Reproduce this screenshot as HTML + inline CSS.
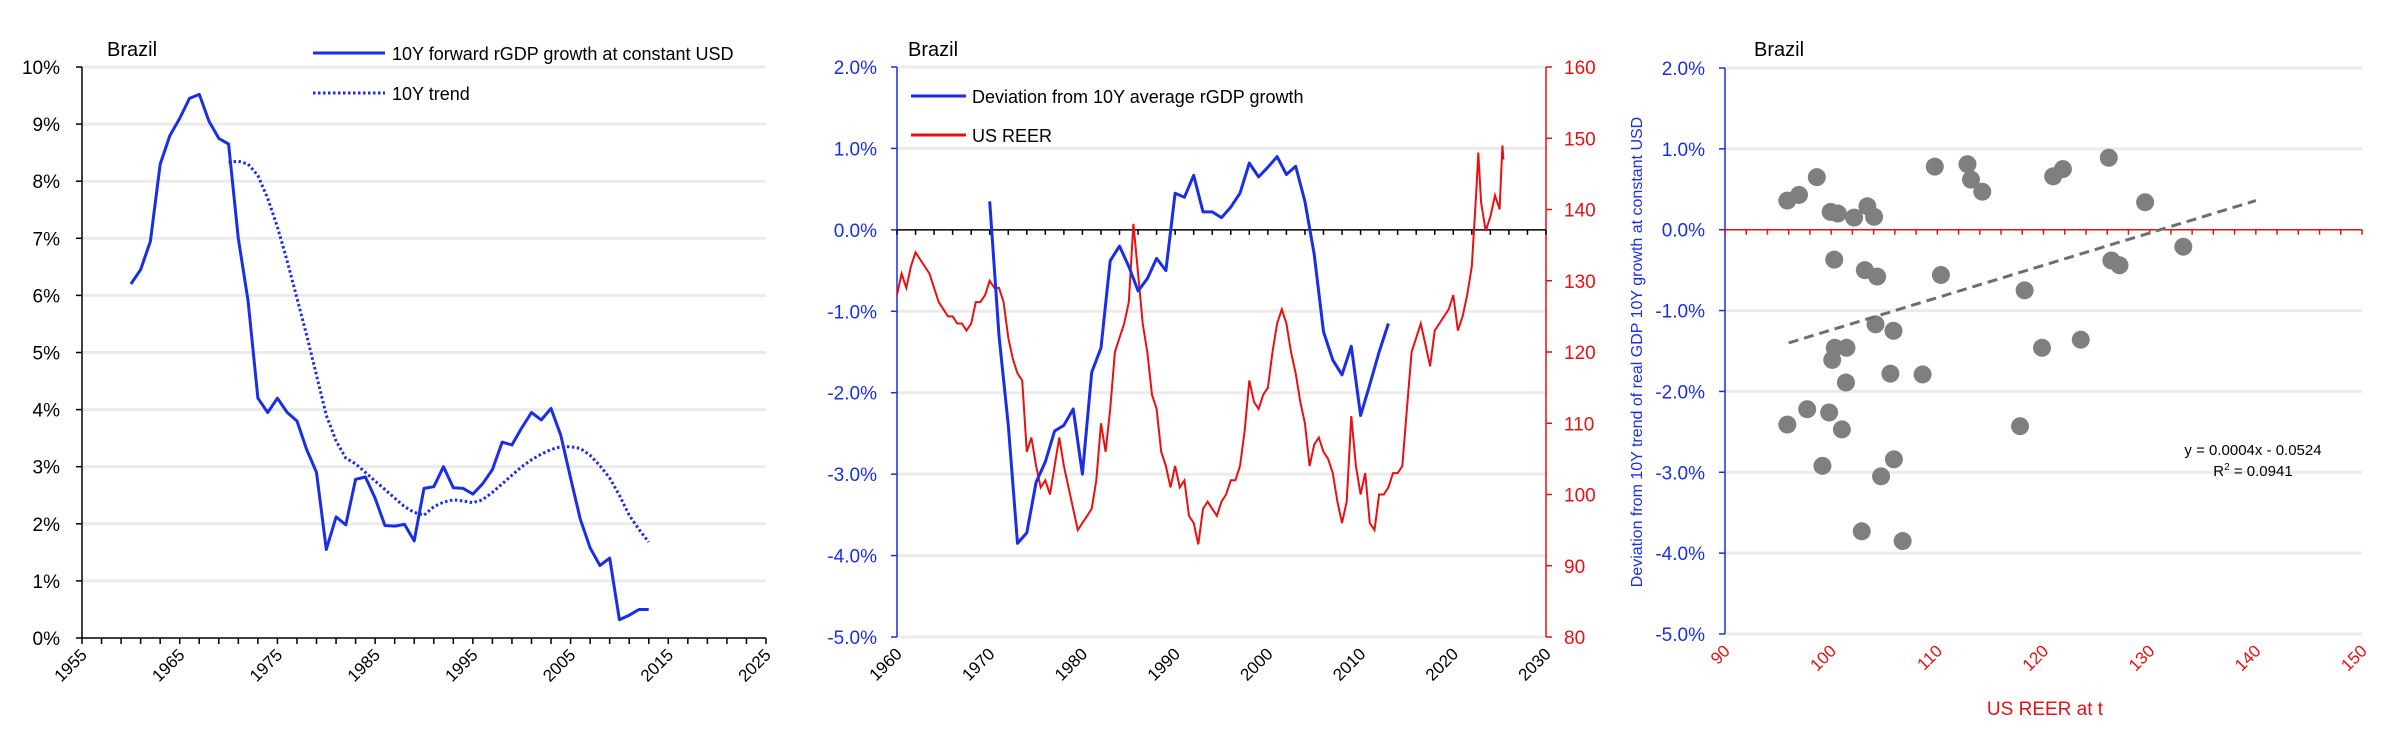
<!DOCTYPE html>
<html><head><meta charset="utf-8"><style>
html,body{margin:0;padding:0;background:#fff}
svg{display:block;font-family:"Liberation Sans",sans-serif}
</style></head><body>
<svg id="svg" width="2400" height="735" viewBox="0 0 2400 735"></svg>
<script>
// ---- Chart 1 data ----
const c1Years=[1960,1961,1962,1963,1964,1965,1966,1967,1968,1969,1970,1971,1972,1973,1974,1975,1976,1977,1978,1979,1980,1981,1982,1983,1984,1985,1986,1987,1988,1989,1990,1991,1992,1993,1994,1995,1996,1997,1998,1999,2000,2001,2002,2003,2004,2005,2006,2007,2008,2009,2010,2011,2012,2013];
const c1Growth=[6.2,6.45,6.95,8.3,8.8,9.1,9.45,9.52,9.05,8.75,8.65,7.0,5.9,4.2,3.95,4.2,3.95,3.8,3.3,2.9,1.55,2.12,1.98,2.78,2.82,2.45,1.97,1.96,1.99,1.7,2.62,2.65,3.0,2.63,2.62,2.52,2.7,2.95,3.43,3.38,3.68,3.95,3.82,4.02,3.55,2.8,2.08,1.58,1.27,1.4,0.32,0.4,0.5,0.5];
const c1TrendYears=[1970,1971,1972,1973,1974,1975,1976,1977,1978,1979,1980,1981,1982,1983,1984,1985,1986,1987,1988,1989,1990,1991,1992,1993,1994,1995,1996,1997,1998,1999,2000,2001,2002,2003,2004,2005,2006,2007,2008,2009,2010,2011,2012,2013];
const c1Trend=[8.33,8.35,8.3,8.1,7.7,7.2,6.6,5.95,5.3,4.6,3.9,3.45,3.15,3.05,2.9,2.75,2.6,2.45,2.3,2.2,2.15,2.3,2.38,2.42,2.4,2.37,2.42,2.55,2.7,2.85,3.0,3.12,3.22,3.3,3.35,3.35,3.32,3.2,3.02,2.8,2.5,2.15,1.9,1.68];
const c1YTicks=[0,1,2,3,4,5,6,7,8,9,10];
const c1XTicks=[1955,1965,1975,1985,1995,2005,2015,2025];
// ---- Chart 2 data ----
const c2Years=[1970,1971,1972,1973,1974,1975,1976,1977,1978,1979,1980,1981,1982,1983,1984,1985,1986,1987,1988,1989,1990,1991,1992,1993,1994,1995,1996,1997,1998,1999,2000,2001,2002,2003,2004,2005,2006,2007,2008,2009,2010,2011,2012,2013];
const c2Dev=[0.35,-1.3,-2.4,-3.85,-3.72,-3.1,-2.85,-2.47,-2.4,-2.2,-3.0,-1.75,-1.45,-0.38,-0.2,-0.45,-0.75,-0.6,-0.35,-0.5,0.45,0.4,0.67,0.22,0.22,0.15,0.28,0.45,0.82,0.65,0.77,0.9,0.68,0.78,0.35,-0.3,-1.25,-1.6,-1.78,-1.43,-2.28,-1.9,-1.5,-1.15];
const reerYears=[1960,1960.5,1961,1961.5,1962,1962.5,1963,1963.5,1964,1964.5,1965,1965.5,1966,1966.5,1967,1967.5,1968,1968.5,1969,1969.5,1970,1970.5,1971,1971.5,1972,1972.5,1973,1973.5,1974,1974.5,1975,1975.5,1976,1976.5,1977,1977.5,1978,1978.5,1979,1979.5,1980,1980.5,1981,1981.5,1982,1982.5,1983,1983.5,1984,1984.5,1985,1985.5,1986,1986.5,1987,1987.5,1988,1988.5,1989,1989.5,1990,1990.5,1991,1991.5,1992,1992.5,1993,1993.5,1994,1994.5,1995,1995.5,1996,1996.5,1997,1997.5,1998,1998.5,1999,1999.5,2000,2000.5,2001,2001.5,2002,2002.5,2003,2003.5,2004,2004.5,2005,2005.5,2006,2006.5,2007,2007.5,2008,2008.5,2009,2009.5,2010,2010.5,2011,2011.5,2012,2012.5,2013,2013.5,2014,2014.5,2015,2015.5,2016,2016.5,2017,2017.5,2018,2018.5,2019,2019.5,2020,2020.5,2021,2021.5,2022,2022.5,2022.7,2023,2023.5,2024,2024.5,2025,2025.3,2025.4];
const reerValues=[128,131,129,132,134,133,132,131,129,127,126,125,125,124,124,123,124,127,127,128,130,129,129,127,122,119,117,116,106,108,104,101,102,100,104,108,104,101,98,95,96,97,98,102,110,106,112,120,122,124,127,138,131,124,120,114,112,106,104,101,104,101,102,97,96,93,98,99,98,97,99,100,102,102,104,109,116,113,112,114,115,120,124,126,124,120,117,113,110,104,107,108,106,105,103,99,96,99,111,104,100,103,96,95,100,100,101,103,103,104,112,120,122,124,121,118,123,124,125,126,128,123,125,128,132,143,148,141,137,139,142,140,149,147];
const c2LeftTicks=[2,1,0,-1,-2,-3,-4,-5];
const c2RightTicks=[80,90,100,110,120,130,140,150,160];
const c2XTicks=[1960,1970,1980,1990,2000,2010,2020,2030];
// ---- Chart 3 data ----
const scatterX=[95.87,96.97,98.65,99.95,100.63,102.16,103.41,104.04,100.29,103.17,104.33,109.76,112.84,113.17,114.23,110.34,120.91,121.83,126.15,129.57,126.39,127.16,133.17,118.22,104.18,105.87,100.34,101.44,100.10,101.39,105.58,108.61,119.86,123.51,95.87,97.74,99.81,101.01,117.79,99.18,105.91,104.70,102.88,106.73];
const scatterY=[0.36,0.43,0.65,0.22,0.20,0.15,0.29,0.16,-0.37,-0.50,-0.58,0.78,0.81,0.62,0.47,-0.56,0.66,0.75,0.89,0.34,-0.38,-0.44,-0.21,-0.75,-1.17,-1.25,-1.46,-1.46,-1.61,-1.89,-1.78,-1.79,-1.46,-1.36,-2.41,-2.22,-2.26,-2.47,-2.43,-2.92,-2.84,-3.05,-3.73,-3.85];
const trendSlope=0.04, trendIntercept=-5.24, trendRange=[96,140];
const c3YTicks=[2,1,0,-1,-2,-3,-4,-5];
const c3XTicks=[90,100,110,120,130,140,150];

const NS="http://www.w3.org/2000/svg";
const svg=document.getElementById('svg');
function mk(tag,attrs,parent){const e=document.createElementNS(NS,tag);for(const k in attrs)e.setAttribute(k,attrs[k]);(parent||svg).appendChild(e);return e;}
function txt(s,attrs,parent){const e=mk('text',attrs,parent);e.textContent=s;return e;}
function lin(d0,d1,r0,r1){return v=>r0+(v-d0)/(d1-d0)*(r1-r0);}
function pathD(xs,ys,fx,fy){return xs.map((x,i)=>(i?'L':'M')+fx(x).toFixed(1)+','+fy(ys[i]).toFixed(1)).join('');}

// ===== Chart 1 =====
{
const g=mk('g',{});


const L=82,R=766,T=67,B=638;
const fx=lin(1955,2025,L,R), fy=lin(0,10,B,T);
c1YTicks.forEach(v=>{
  if(v>0){const gl=mk('line',{x1:L,x2:R,y1:fy(v),y2:fy(v),stroke:'#ebebeb','stroke-width':3},g);
  }
  mk('line',{x1:L-6,x2:L,y1:fy(v),y2:fy(v),stroke:'#000','stroke-width':1.5},g);
  const t=txt(v+'%',{x:L-22,y:fy(v)+7,'text-anchor':'end','font-size':19,fill:'#000'},g);
  
});
mk('line',{x1:L,x2:L,y1:T,y2:B,stroke:'#000','stroke-width':1.5},g);
mk('line',{x1:L,x2:R,y1:B,y2:B,stroke:'#000','stroke-width':1.5},g);
for(let y=1955;y<=2025;y+=2){mk('line',{x1:fx(y),x2:fx(y),y1:B,y2:B+6,stroke:'#000','stroke-width':1.5},g);}
c1XTicks.forEach(y=>{const x=fx(y);
  const t=txt(String(y),{x:x+6,y:B+18,'text-anchor':'end','font-size':17,transform:`rotate(-45 ${x+6} ${B+18})`},g);
  });
const tr=mk('path',{d:pathD(c1TrendYears,c1Trend,fx,fy),fill:'none',stroke:'#1a2ee6','stroke-width':3,'stroke-dasharray':'2.5 2.5'},g);

const gl=mk('path',{d:pathD(c1Years,c1Growth,fx,fy),fill:'none',stroke:'#1a2ee6','stroke-width':3,'stroke-linejoin':'round'},g);

const ti=txt('Brazil',{x:107,y:56,'font-size':20,fill:'#000'},g);

mk('line',{x1:313,x2:385,y1:53,y2:53,stroke:'#1a2ee6','stroke-width':3},g);
const l1=txt('10Y forward rGDP growth at constant USD',{x:392,y:60,'font-size':18},g);

mk('line',{x1:313,x2:385,y1:93,y2:93,stroke:'#1a2ee6','stroke-width':3,'stroke-dasharray':'2.5 2.5'},g);
const l2=txt('10Y trend',{x:392,y:100,'font-size':18},g);

}

// ===== Chart 2 =====
{
const g=mk('g',{});


const L=897,R=1546,T=67,B=637;
const fx=lin(1960,2030,L,R), fy=lin(-5,2,B,T), fr=lin(80,160,B,T);
c2LeftTicks.forEach(v=>{
  if(v!==0){mk('line',{x1:L,x2:R,y1:fy(v),y2:fy(v),stroke:'#ebebeb','stroke-width':3},g);}
  mk('line',{x1:L-6,x2:L,y1:fy(v),y2:fy(v),stroke:'#1a2ee6','stroke-width':1.5},g);
  const t=txt(v.toFixed(1)+'%',{x:L-20,y:fy(v)+7,'text-anchor':'end','font-size':19,fill:'#1a2ee6'},g);
  
});
c2RightTicks.forEach(v=>{
  mk('line',{x1:R,x2:R+6,y1:fr(v),y2:fr(v),stroke:'#e81010','stroke-width':1.5},g);
  const t=txt(String(v),{x:R+18,y:fr(v)+7,'font-size':19,fill:'#e81010'},g);
  
});
mk('line',{x1:L,x2:L,y1:T,y2:B,stroke:'#1a2ee6','stroke-width':1.5},g);
mk('line',{x1:R,x2:R,y1:T,y2:B,stroke:'#e81010','stroke-width':1.5},g);
mk('line',{x1:L,x2:R,y1:fy(0),y2:fy(0),stroke:'#000','stroke-width':1.5},g);
for(let y=1960;y<=2030;y+=2){mk('line',{x1:fx(y),x2:fx(y),y1:fy(0),y2:fy(0)+5,stroke:'#000','stroke-width':1.5},g);}
c2XTicks.forEach(y=>{const x=fx(y);
  const t=txt(String(y),{x:x+6,y:B+18,'text-anchor':'end','font-size':17,transform:`rotate(-45 ${x+6} ${B+18})`},g);
  });
const rl=mk('path',{d:pathD(reerYears,reerValues,fx,fr),fill:'none',stroke:'#e81010','stroke-width':2},g);

const bl=mk('path',{d:pathD(c2Years,c2Dev,fx,fy),fill:'none',stroke:'#1a2ee6','stroke-width':3,'stroke-linejoin':'round'},g);

const ti=txt('Brazil',{x:908,y:56,'font-size':20},g);

mk('line',{x1:911,x2:966,y1:96,y2:96,stroke:'#1a2ee6','stroke-width':3},g);
const l1=txt('Deviation from 10Y average rGDP growth',{x:972,y:103,'font-size':18},g);

mk('line',{x1:911,x2:966,y1:135,y2:135,stroke:'#e81010','stroke-width':3},g);
const l2=txt('US REER',{x:972,y:142,'font-size':18},g);

}

// ===== Chart 3 =====
{
const g=mk('g',{});


const L=1725,R=2362,T=68,B=634;
const fx=lin(90,150,L,R), fy=lin(-5,2,B,T);
c3YTicks.forEach(v=>{
  if(v!==0){mk('line',{x1:L,x2:R,y1:fy(v),y2:fy(v),stroke:'#ebebeb','stroke-width':3},g);}
  mk('line',{x1:L-6,x2:L,y1:fy(v),y2:fy(v),stroke:'#1a2ee6','stroke-width':1.5},g);
  const t=txt(v.toFixed(1)+'%',{x:L-20,y:fy(v)+7,'text-anchor':'end','font-size':19,fill:'#1a2ee6'},g);
  
});
mk('line',{x1:L,x2:L,y1:T,y2:B,stroke:'#1a2ee6','stroke-width':1.5},g);
mk('line',{x1:L,x2:R,y1:fy(0),y2:fy(0),stroke:'#e81010','stroke-width':1.5},g);
for(let v=90;v<=150;v+=2){mk('line',{x1:fx(v),x2:fx(v),y1:fy(0),y2:fy(0)+5,stroke:'#e81010','stroke-width':1.5},g);}
c3XTicks.forEach(v=>{const x=fx(v);
  const t=txt(String(v),{x:x+6,y:B+18,'text-anchor':'end','font-size':17,fill:'#e81010',transform:`rotate(-45 ${x+6} ${B+18})`},g);
  });
scatterX.forEach((x,i)=>{
  const c=mk('circle',{cx:fx(x),cy:fy(scatterY[i]),r:9,fill:'#7f7f7f'},g);
  
  
});
const tl=mk('line',{x1:fx(trendRange[0]),y1:fy(trendSlope*trendRange[0]+trendIntercept),x2:fx(trendRange[1]),y2:fy(trendSlope*trendRange[1]+trendIntercept),stroke:'#6e6e6e','stroke-width':3,'stroke-dasharray':'10 6'},g);

const ti=txt('Brazil',{x:1754,y:56,'font-size':20},g);

const eq=txt('y = 0.0004x - 0.0524',{x:2253,y:455,'text-anchor':'middle','font-size':15},g);

const r2=mk('text',{x:2253,y:476,'text-anchor':'middle','font-size':15},g);
r2.innerHTML='R<tspan font-size="10" dy="-6">2</tspan><tspan dy="6"> = 0.0941</tspan>';

const yt=txt('Deviation from 10Y trend of real GDP 10Y growth at constant USD',{x:0,y:0,'text-anchor':'middle','font-size':16,fill:'#1a2ee6',transform:'translate(1642,352) rotate(-90)'},g);

const xt=txt('US REER at t',{x:2045,y:715,'text-anchor':'middle','font-size':19,fill:'#e81010'},g);

}
</script>
</body></html>
